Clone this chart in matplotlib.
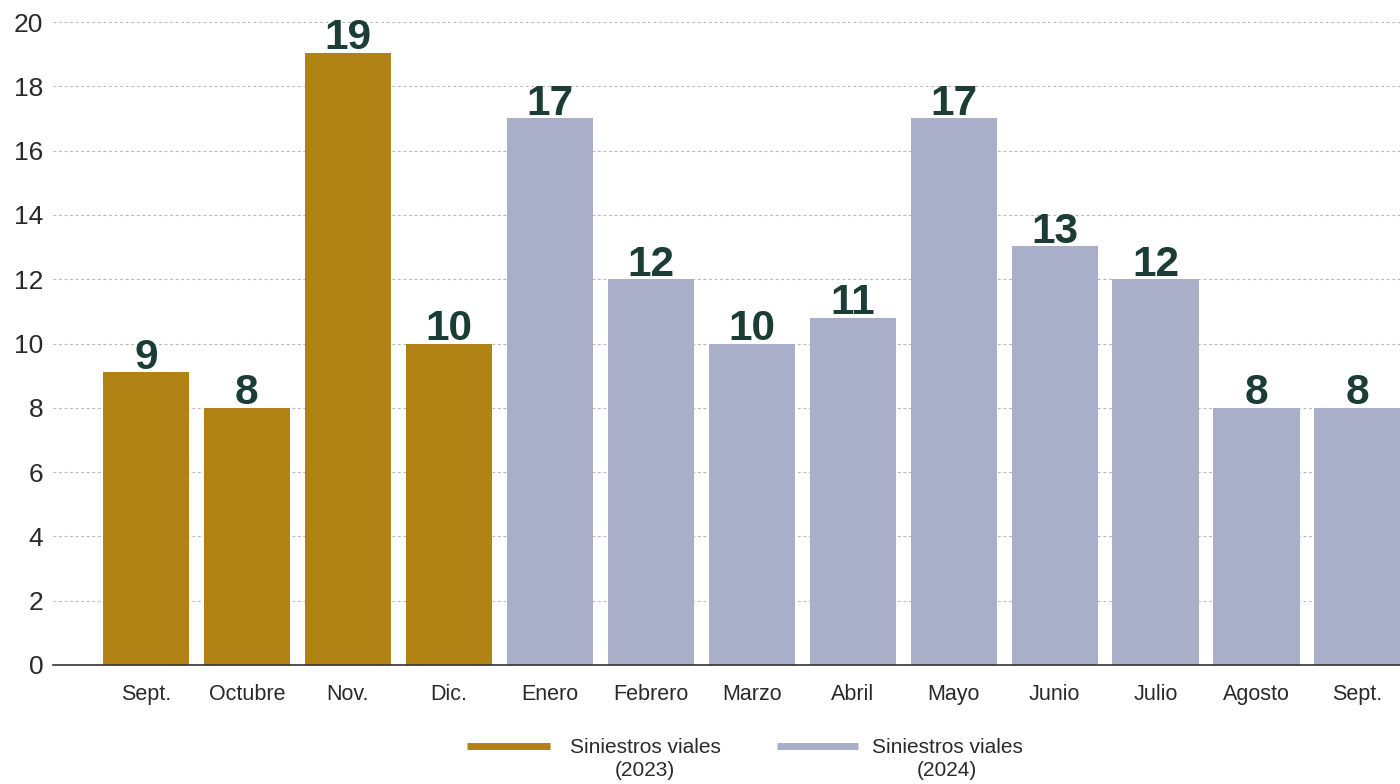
import matplotlib
matplotlib.use("Agg")
import matplotlib.pyplot as plt
from matplotlib.lines import Line2D

months = ["Sept.", "Octubre", "Nov.", "Dic.", "Enero", "Febrero", "Marzo",
          "Abril", "Mayo", "Junio", "Julio", "Agosto", "Sept."]
heights = [9.1, 8, 19.05, 10, 17, 12, 10, 10.8, 17, 13.03, 12, 8, 8]
labels = ["9", "8", "19", "10", "17", "12", "10", "11", "17", "13", "12", "8", "8"]
years = [2023, 2023, 2023, 2023, 2024, 2024, 2024, 2024, 2024, 2024, 2024, 2024, 2024]
yticks = [0, 2, 4, 6, 8, 10, 12, 14, 16, 18, 20]
legend_labels = ["Siniestros viales\n(2023)", "Siniestros viales\n(2024)"]

colors = {2023: "#B08314", 2024: "#A9AFC8"}

plt.rcParams['font.family'] = ['Liberation Sans', 'DejaVu Sans']

fig = plt.figure(figsize=(14, 7.84), dpi=100)
ax = fig.add_axes([53/1400, 1 - 665/784, 1 - 53/1400, (665 - 22)/784])

x = list(range(len(months)))
ax.bar(x, heights, width=0.855, color=[colors[y] for y in years], zorder=2)

for xi, h, lab in zip(x, heights, labels):
    ax.annotate(lab, (xi, h), xytext=(0, 2.5), textcoords="offset points",
                ha="center", va="baseline", fontsize=30.5, fontweight="bold",
                color="#1B3D36", zorder=3)

ax.set_xlim(-0.92, 12.42)
ax.set_ylim(0, 20)
ax.set_yticks(yticks)
ax.set_yticklabels([str(t) for t in yticks], fontsize=19, color="#2a2a2a")
ax.set_xticks(x)
ax.set_xticklabels(months, fontsize=15.5, color="#2a2a2a")
ax.tick_params(axis="both", length=0)
ax.tick_params(axis="x", pad=14)
ax.tick_params(axis="y", pad=7)

for sp in ["top", "right", "left"]:
    ax.spines[sp].set_visible(False)
ax.spines["bottom"].set_color("#333333")
ax.spines["bottom"].set_linewidth(1.2)
ax.spines["bottom"].set_zorder(4)

ax.yaxis.grid(True, linestyle=(0, (2.5, 2.5)), color="#b8b8b8", linewidth=0.8, zorder=0)
ax.set_axisbelow(True)

# legend drawn manually
leg_specs = [(467, 550, 645, 2023), (777, 858, 947, 2024)]
for (x0, x1, tc, yr), lab in zip(leg_specs, legend_labels):
    fig.add_artist(Line2D([x0/1400, x1/1400], [1 - 746/784, 1 - 746/784],
                          color=colors[yr], linewidth=5, solid_capstyle="butt"))
    fig.text(tc/1400, 1 - 759/784, lab, ha="center", va="center",
             multialignment="center", fontsize=15, color="#2a2a2a", linespacing=1.25)

fig.savefig("out.png", dpi=100)
